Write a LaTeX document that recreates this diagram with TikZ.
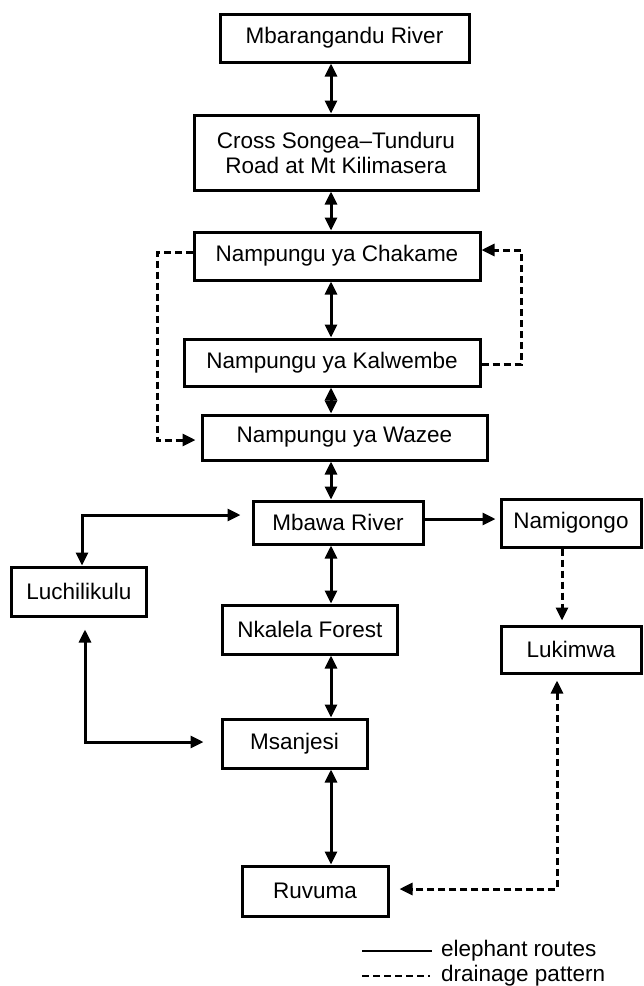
\documentclass[tikz,border=0pt]{standalone}
\usepackage{fontspec}
\setmainfont{Liberation Sans}
\usetikzlibrary{arrows.meta}
\begin{document}
\begin{tikzpicture}[x=1pt,y=-1pt,
  box/.style={draw, line width=3pt, inner sep=0pt, align=center, font=\fontsize{22.5}{25}\selectfont},
  conn/.style={line width=3pt},
  tip/.style={-{Triangle[length=13pt,width=12pt]}},
  both/.style={{Triangle[length=13pt,width=12pt]}-{Triangle[length=13pt,width=12pt]}},
  drain/.style={line width=3pt, dash pattern=on 7pt off 4pt},
  lbl/.style={font=\fontsize{22.5}{25}\selectfont, inner sep=0pt, anchor=west}]
\useasboundingbox (0,0) rectangle (644,986);

% boxes
\node[box, minimum width=249pt, minimum height=48pt] (mbar) at (344.5,38) {Mbarangandu River};
\node[box, minimum width=284pt, minimum height=75pt] (cross) at (336,152.5) {Cross Songea–Tunduru\\Road at Mt Kilimasera};
\node[box, minimum width=286pt, minimum height=48pt] (chak) at (337,256) {Nampungu ya Chakame};
\node[box, minimum width=296pt, minimum height=47pt] (kalw) at (332,362.5) {Nampungu ya Kalwembe};
\node[box, minimum width=285pt, minimum height=45pt] (waz) at (344.5,437.5) {Nampungu ya Wazee};
\node[box, minimum width=170pt, minimum height=43pt] (mbawa) at (338,522.5) {Mbawa River};
\node[box, minimum width=140pt, minimum height=48pt] (namig) at (571,523) {Namigongo};
\node[box, minimum width=135pt, minimum height=49pt] (luch) at (79,591.5) {Luchilikulu};
\node[box, minimum width=175pt, minimum height=49pt] (nkal) at (310,629.5) {Nkalela Forest};
\node[box, minimum width=140pt, minimum height=47pt] (luki) at (571,649.5) {Lukimwa};
\node[box, minimum width=145pt, minimum height=49pt] (msan) at (294.5,743.5) {Msanjesi};
\node[box, minimum width=146pt, minimum height=50pt] (ruv) at (315,891) {Ruvuma};

% central axis connectors
\coordinate (ax) at (331,0);
\draw[conn,both] (mbar.south -| ax) -- (cross.north -| ax);
\draw[conn,both] (cross.south -| ax) -- (chak.north -| ax);
\draw[conn,both] (chak.south -| ax) -- (kalw.north -| ax);
\draw[conn,both] (kalw.south -| ax) -- (waz.north -| ax);
\draw[conn,both] (waz.south -| ax) -- (mbawa.north -| ax);
\draw[conn,both] (mbawa.south -| ax) -- (nkal.north -| ax);
\draw[conn,both] (nkal.south -| ax) -- (msan.north -| ax);
\draw[conn,both] (msan.south -| ax) -- (ruv.north -| ax);

% Mbawa -> Namigongo
\coordinate (ymn) at (0,519);
\draw[conn,tip,shorten >=4pt] (mbawa.east |- ymn) -- (namig.west |- ymn);

% Luchilikulu routes
\coordinate (c1) at (82,515);
\draw[conn,both,shorten >=11pt] (c1 |- luch.north) -- (c1) -- (c1 -| mbawa.west);
\coordinate (c2) at (85,742);
\draw[conn,both,shorten <=12pt,shorten >=17pt] (c2 |- luch.south) -- (c2) -- (c2 -| msan.west);

% drainage
\coordinate (d1) at (157,252);
\coordinate (d2) at (157,440);
\draw[drain,tip,shorten >=5pt] (chak.west |- d1) -- (d1) -- (d2) -- (waz.west |- d2);
\coordinate (e1) at (521,364);
\coordinate (e2) at (521,250);
\draw[drain,tip] (kalw.east |- e1) -- (e1) -- (e2) -- (chak.east |- e2);
\coordinate (f) at (562,0);
\draw[drain,tip,shorten >=4pt] (namig.south -| f) -- (luki.north -| f);
\coordinate (g1) at (557,889);
\draw[drain,both,shorten <=6pt,shorten >=10pt] (luki.south -| g1) -- (g1) -- (g1 -| ruv.east);

% legend
\coordinate (l1) at (362,951);
\coordinate (l2) at (432,951);
\draw[line width=2.5pt] (l1) -- (l2);
\node[lbl] (leg1) at (441,951) {elephant routes};
\coordinate (m1) at (362,976);
\coordinate (m2) at (430,976);
\draw[line width=2.5pt, dash pattern=on 7pt off 4pt] (m1) -- (m2);
\node[lbl] (leg2) at (441,976) {drainage pattern};
\end{tikzpicture}
\end{document}
